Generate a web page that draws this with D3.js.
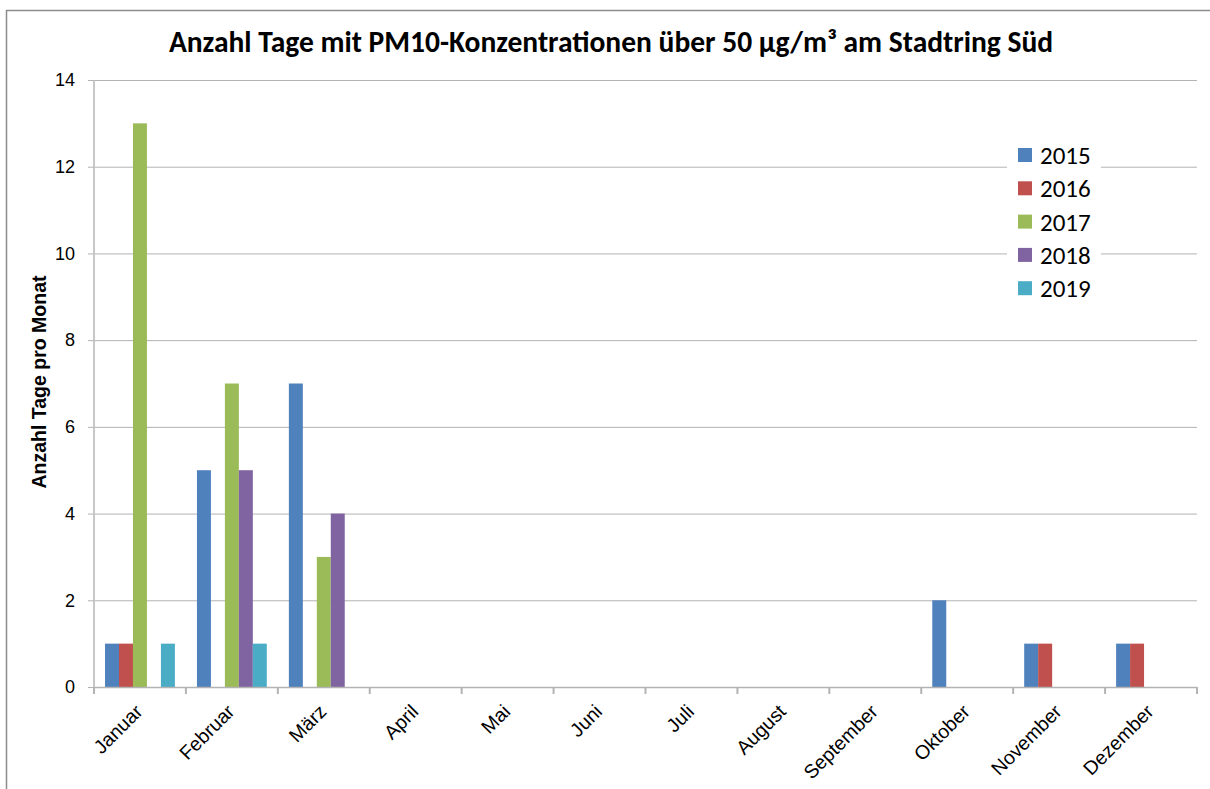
<!DOCTYPE html>
<html lang="de">
<head>
<meta charset="utf-8">
<title>PM10 Stadtring Süd</title>
<script src="https://d3js.org/d3.v7.min.js"></script>
<style>
  body { margin: 0; background: #fff; }
  svg { display: block; }
  .tick text { font-family: "Liberation Sans", Arial, sans-serif; fill: #000; }
</style>
</head>
<body>
<script>
// months and yearly series (days per month with PM10 > 50)
var months = ["Januar", "Februar", "März", "April", "Mai", "Juni", "Juli",
              "August", "September", "Oktober", "November", "Dezember"];
var years = ["2015", "2016", "2017", "2018", "2019"];
var colors = ["#4F81BD", "#C0504D", "#9BBB59", "#8064A2", "#4BACC6"];

var s2015 = [1, 5, 7, 0, 0, 0, 0, 0, 0, 2, 1, 1];
var s2016 = [1, 0, 0, 0, 0, 0, 0, 0, 0, 0, 1, 1];
var s2017 = [13, 7, 3, 0, 0, 0, 0, 0, 0, 0, 0, 0];
var s2018 = [0, 5, 4, 0, 0, 0, 0, 0, 0, 0, 0, 0];
var s2019 = [1, 1, 0, 0, 0, 0, 0, 0, 0, 0, 0, 0];
var yTicks = [0, 2, 4, 6, 8, 10, 12, 14];

var series = [s2015, s2016, s2017, s2018, s2019];

var width = 1210, height = 789;
var margin = {top: 80, right: 13, bottom: 102, left: 94};
var plotW = width - margin.left - margin.right,
    plotH = height - margin.top - margin.bottom;

var svg = d3.select("body").append("svg")
    .attr("width", width)
    .attr("height", height);

// outer chart frame
svg.append("path")
    .attr("d", "M6.5," + (height + 2) + "V10.5H" + (width + 2))
    .attr("fill", "none")
    .attr("stroke", "#8c8c8c")
    .attr("stroke-width", 1.5);

svg.append("text")
    .attr("x", 611)
    .attr("y", 52)
    .attr("text-anchor", "middle")
    .style("font-family", "Carlito, Lato, 'Open Sans', sans-serif")
    .style("font-weight", "bold")
    .style("font-size", "29.5px")
    .text("Anzahl Tage mit PM10-Konzentrationen über 50 µg/m³ am Stadtring Süd");

var g = svg.append("g")
    .attr("transform", "translate(" + margin.left + "," + margin.top + ")");

var x0 = d3.scaleBand().domain(months).range([0, plotW]);
var x1 = d3.scaleBand().domain(years)
    .range([x0.bandwidth() * 0.12, x0.bandwidth() * 0.88]);
var y = d3.scaleLinear().domain([0, 14]).range([plotH, 0]);

// grid lines
g.append("g")
    .selectAll("line")
    .data(yTicks.slice(1))
    .join("line")
    .attr("x1", 0).attr("x2", plotW)
    .attr("y1", function(d) { return y(d) + 0.5; })
    .attr("y2", function(d) { return y(d) + 0.5; })
    .attr("stroke", "#b3b3b3")
    .attr("stroke-width", 1);

// y axis
var yAxis = g.append("g")
    .call(d3.axisLeft(y).tickValues(yTicks).tickSize(6).tickPadding(13));
yAxis.select(".domain").attr("stroke", "#c8c8c8").attr("stroke-width", 2)
    .attr("d", "M0,0V" + plotH);
yAxis.selectAll(".tick line").attr("stroke", "#b3b3b3");
yAxis.selectAll(".tick text").style("font-size", "18px");

// bars
var groups = g.append("g")
    .selectAll("g")
    .data(months)
    .join("g")
    .attr("transform", function(d) { return "translate(" + x0(d) + ",0)"; });

groups.selectAll("rect")
    .data(function(m, i) {
      return years.map(function(yr, k) { return {year: yr, k: k, value: series[k][i]}; })
        .filter(function(d) { return d.value > 0; });
    })
    .join("rect")
    .attr("x", function(d) { return x1(d.year); })
    .attr("width", x1.bandwidth())
    .attr("y", function(d) { return y(d.value); })
    .attr("height", function(d) { return plotH - y(d.value); })
    .attr("fill", function(d) { return colors[d.k]; });

// x axis
var xAxis = g.append("g")
    .attr("transform", "translate(0," + plotH + ")")
    .call(d3.axisBottom(x0).tickSize(0).tickPadding(0));
xAxis.select(".domain").remove();
xAxis.selectAll(".tick text")
    .style("font-size", "19.5px")
    .attr("text-anchor", "end")
    .attr("dy", "0.35em")
    .attr("transform", "translate(-1,21) rotate(-45)");

// band boundary ticks
g.append("g")
    .selectAll("line")
    .data(d3.range(months.length + 1))
    .join("line")
    .attr("x1", function(i) { return i * x0.bandwidth(); })
    .attr("x2", function(i) { return i * x0.bandwidth(); })
    .attr("y1", plotH).attr("y2", plotH + 7)
    .attr("stroke", "#b3b3b3").attr("stroke-width", 2);
g.append("line")
    .attr("x1", 0).attr("x2", plotW)
    .attr("y1", plotH + 0.5).attr("y2", plotH + 0.5)
    .attr("stroke", "#b3b3b3").attr("stroke-width", 1.5);

// y axis title
svg.append("text")
    .attr("transform", "translate(46,382) rotate(-90)")
    .attr("text-anchor", "middle")
    .style("font-family", "'Liberation Sans', Arial, sans-serif")
    .style("font-weight", "bold")
    .style("font-size", "19.5px")
    .text("Anzahl Tage pro Monat");

// legend
var legend = svg.append("g").attr("transform", "translate(1007,138)");
legend.append("rect")
    .attr("x", 0).attr("y", 0)
    .attr("width", 94).attr("height", 168)
    .attr("fill", "#fff");
var items = legend.selectAll("g.item")
    .data(years)
    .join("g")
    .attr("class", "item")
    .attr("transform", function(d, i) { return "translate(11," + (10 + i * 33.3) + ")"; });
items.append("rect")
    .attr("width", 14).attr("height", 14)
    .attr("fill", function(d, i) { return colors[i]; });
items.append("text")
    .attr("x", 22).attr("y", 7)
    .attr("dy", "0.36em")
    .style("font-family", "Carlito, Lato, 'Open Sans', sans-serif")
    .style("font-size", "25px")
    .text(function(d) { return d; });
</script>
</body>
</html>
